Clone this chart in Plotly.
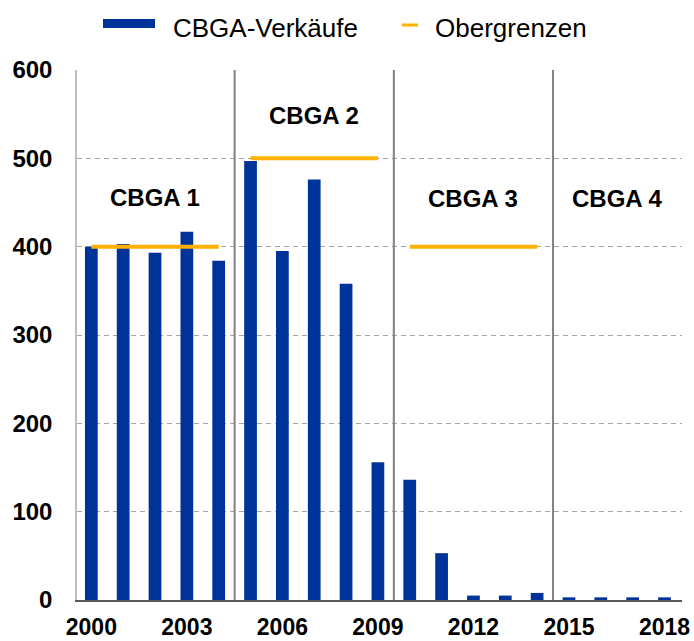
import plotly.graph_objects as go

# ---- data ----
years = list(range(2000, 2019))
sales = [400, 403, 393, 417, 384, 497, 395, 476, 358, 156, 136, 53, 5, 5, 8, 3, 3, 3, 3]
cap_x = [2000, 2004, None, 2005, 2009, None, 2010, 2014]
cap_y = [400, 400, None, 500, 500, None, 400, 400]
dividers = [2004.5, 2009.5, 2014.5]
period_labels = ["CBGA 1", "CBGA 2", "CBGA 3", "CBGA 4"]
period_x = [2002, 2007, 2012, 2016.5]
period_y = [456, 549, 455, 455]
x_ticks = [2000, 2003, 2006, 2009, 2012, 2015, 2018]
y_ticks = [0, 100, 200, 300, 400, 500, 600]
legend_names = ["CBGA-Verkäufe", "Obergrenzen"]

BLUE = "#00339A"
ORANGE = "#FFB000"
FONT = "Liberation Sans, Arial, sans-serif"

W, H = 694, 641
ML, MR, MT, MB = 77, 12, 70, 41
PW, PH = W - ML - MR, H - MT - MB


def px_x(p):
    return (p - ML) / PW


def px_y(p):
    return (H - MB - p) / PH


fig = go.Figure()
fig.add_trace(go.Bar(x=years, y=sales, marker=dict(color=BLUE, line=dict(width=0)),
                     width=0.4, showlegend=False, name=legend_names[0]))
fig.add_trace(go.Scatter(x=cap_x, y=cap_y, mode="lines",
                         line=dict(color=ORANGE, width=4), showlegend=False,
                         name=legend_names[1], connectgaps=False))

shapes = []
for d in dividers:
    shapes.append(dict(type="line", xref="x", yref="paper", x0=d, x1=d, y0=0, y1=1,
                       line=dict(color="#808080", width=2)))
# manual legend
shapes.append(dict(type="rect", xref="paper", yref="paper",
                   x0=px_x(103), x1=px_x(155), y0=px_y(28), y1=px_y(19),
                   fillcolor=BLUE, line=dict(width=0)))
shapes.append(dict(type="line", xref="paper", yref="paper",
                   x0=px_x(402), x1=px_x(418), y0=px_y(25), y1=px_y(25),
                   line=dict(color=ORANGE, width=3)))

annotations = []
for t, x, y in zip(period_labels, period_x, period_y):
    annotations.append(dict(x=x, y=y, xref="x", yref="y", text=t, showarrow=False,
                            font=dict(family=FONT, size=24, color="#000000", weight="bold")))
annotations.append(dict(x=px_x(171), y=px_y(28), xref="paper", yref="paper",
                        text=legend_names[0], showarrow=False, xanchor="left", yanchor="middle",
                        font=dict(family=FONT, size=26, color="#000000")))
annotations.append(dict(x=px_x(433), y=px_y(28), xref="paper", yref="paper",
                        text=legend_names[1], showarrow=False, xanchor="left", yanchor="middle",
                        font=dict(family=FONT, size=26, color="#000000")))

fig.update_layout(
    width=W, height=H,
    margin=dict(l=ML, r=MR, t=MT, b=MB, autoexpand=False),
    paper_bgcolor="white", plot_bgcolor="white",
    shapes=shapes, annotations=annotations,
    font=dict(family=FONT, color="#000000"),
    xaxis=dict(range=[1999.55, 2018.55], tickvals=x_ticks, ticks="", automargin=False,
               showgrid=False, zeroline=False, showline=True,
               linecolor="#595959", linewidth=2,
               tickfont=dict(family=FONT, size=23, weight="bold", color="#000000"),
               ticklabelstandoff=5),
    yaxis=dict(range=[0, 600], tickvals=y_ticks, ticks="", automargin=False,
               showgrid=True, gridcolor="#A6A6A6", gridwidth=1, griddash="5px,4px",
               zeroline=False, showline=True, linecolor="#BFBFBF", linewidth=1.5,
               tickfont=dict(family=FONT, size=24, weight="bold", color="#000000"),
               ticklabelstandoff=18),
)

fig.write_html("out.html", config={"displayModeBar": False},
               post_script="document.body.style.margin='0';document.body.style.overflow='hidden';")
